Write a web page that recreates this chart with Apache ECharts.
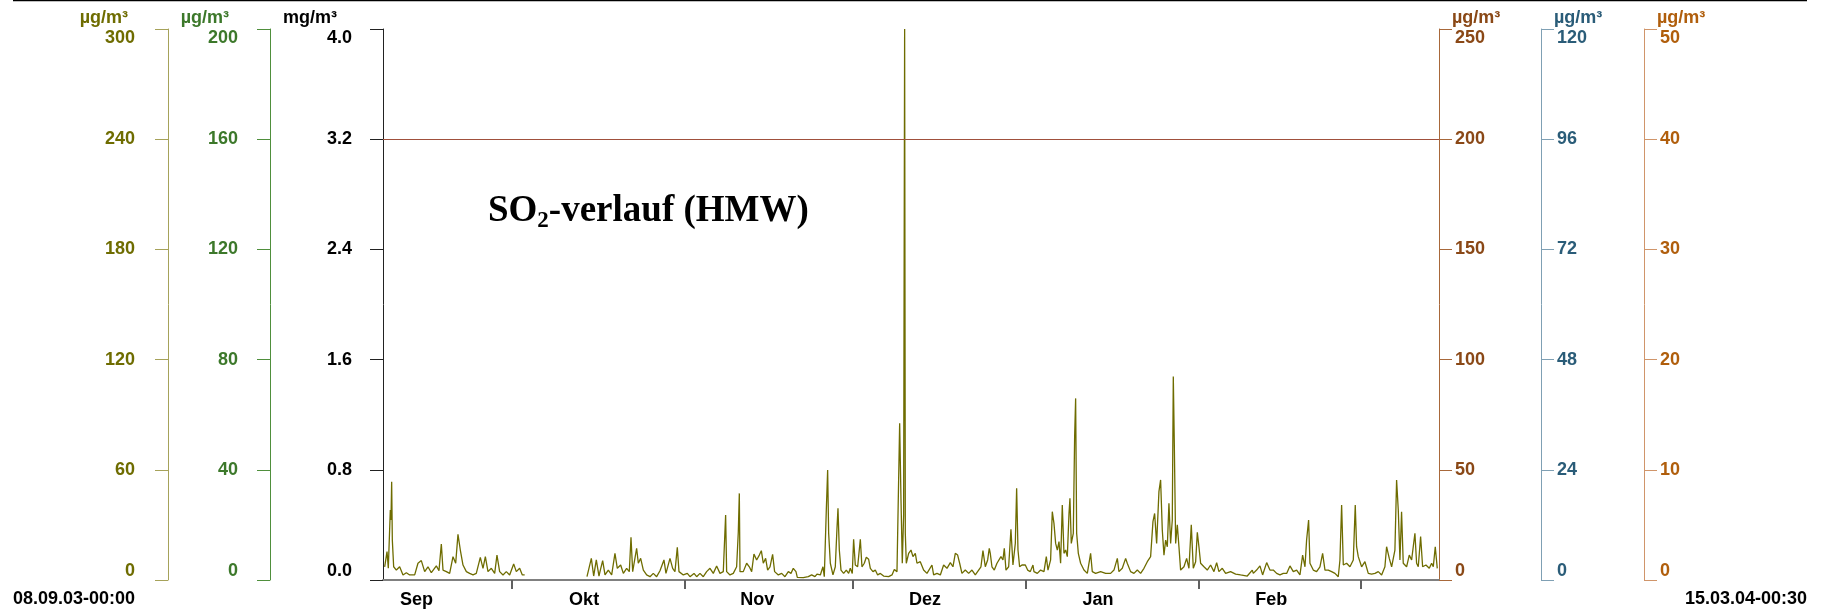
<!DOCTYPE html>
<html>
<head>
<meta charset="utf-8">
<script src="https://cdn.jsdelivr.net/npm/echarts@6/dist/echarts.min.js"></script>
<style>
  html, body { margin: 0; padding: 0; background: #fff; }
  #chart { width: 1827px; height: 610px; }
</style>
</head>
<body>
<div id="chart"></div>
<script>
// time in days since 08.09.03 00:00, SO2 half-hour values in µg/m³ (null = no data)
var days = [
  0.30, 0.72, 0.95, 1.31, 1.43, 1.55, 1.67, 1.91, 2.39, 2.98, 3.58, 4.18, 4.77, 5.67, 6.26, 6.86, 7.46, 8.05, 8.65, 9.55,
  10.02, 10.44, 10.74, 11.34, 11.93, 12.53, 13.01, 13.42, 13.84, 14.32, 14.92, 15.51, 16.11, 16.70, 17.42, 17.90, 18.32, 18.79, 19.39, 19.99,
  20.40, 20.88, 21.48, 22.07, 22.67, 23.39, 23.86, 24.46, 24.94, 25.36, 30.00,
  36.51, 37.29, 37.71, 38.18, 38.66, 38.84, 39.32, 39.74, 40.33, 40.93, 41.52, 41.94, 42.54, 43.02, 43.61, 44.09, 44.39, 44.69, 45.40,
  45.70, 46.12, 46.60, 47.19, 47.79, 48.38, 48.98, 49.58, 50.29, 50.65, 51.37, 51.85, 52.26, 52.68, 52.98, 53.76, 54.47, 54.95, 55.67, 56.14,
  56.74, 57.33, 57.93, 58.53, 59.12, 59.72, 60.32, 60.91, 61.33, 61.51, 62.11, 62.70, 63.30, 63.60, 63.78, 63.90, 64.49, 65.09, 65.57, 65.99,
  66.40, 66.88, 67.36, 67.72, 68.07, 68.49, 68.85, 69.27, 69.74, 70.10, 70.76, 71.36, 71.95, 72.55, 73.03, 73.44, 73.92, 74.16, 75.23, 76.13,
  76.73, 77.32, 77.68, 78.28, 78.75, 78.99, 79.35, 79.59, 79.77, 80.07, 80.54, 80.96, 81.26, 81.44, 81.68, 81.98, 82.45, 82.93, 83.35, 83.64,
  84.00, 84.24, 84.54, 84.96, 85.44, 85.73, 86.15, 86.51, 86.93, 87.23, 87.70, 88.12, 88.54, 89.02, 89.61, 90.51, 91.11, 91.52, 92.00, 92.30,
  92.48, 92.72, 92.95, 93.19, 93.37, 93.49, 93.67, 94.09, 94.51, 94.86, 95.28, 95.58, 96.17, 96.77, 97.37, 98.26, 98.56, 99.16, 99.76, 100.35,
  100.95, 101.55, 102.02, 102.44, 102.86, 103.22, 103.63, 104.23, 104.83, 105.42, 106.02, 106.62, 107.03, 107.39, 107.81, 108.23, 108.52, 108.70, 109.00, 109.42,
  109.90, 110.19, 110.61, 110.97, 111.21, 111.51, 111.99, 112.40, 112.76, 113.18, 113.42, 113.66, 113.95, 114.37, 114.97, 115.39, 115.86, 116.34, 116.52, 117.12,
  117.71, 118.31, 118.73, 119.03, 119.50, 119.80, 120.10, 120.40, 120.70, 121.00, 121.29, 121.59, 121.89, 122.19, 122.49, 122.79, 122.96, 123.20, 123.56, 123.80,
  123.98, 124.16, 124.46, 124.87, 125.47, 126.07, 126.66, 126.96, 127.56, 128.45, 129.35, 130.24, 130.84, 131.44, 131.73, 132.33, 132.93, 133.22, 133.82, 134.42,
  135.02, 135.61, 136.21, 136.81, 137.40, 137.82, 138.12, 138.48, 138.89, 139.19, 139.49, 139.79, 140.09, 140.39, 140.68, 140.98, 141.28, 141.46, 141.64, 141.88,
  142.18, 142.47, 142.77, 143.37, 143.85, 144.26, 144.68, 145.04, 145.46, 145.76, 146.05, 146.35, 146.95, 147.54, 148.14, 148.74, 149.22, 149.63, 150.23, 150.83,
  151.72, 152.62, 153.51, 154.70, 155.60, 155.78, 156.37, 156.97, 157.45, 158.17, 158.76, 159.36, 159.96, 160.55, 161.15, 161.75, 162.34, 162.94, 163.54, 164.13,
  164.61, 165.03, 165.32, 165.68, 165.92, 166.52, 167.11, 167.71, 168.19, 168.61, 169.20, 169.80, 170.40, 170.99, 171.29, 171.59, 171.89, 172.48, 173.08, 173.68,
  174.03, 174.27, 174.57, 175.17, 175.76, 176.36, 176.96, 177.56, 178.15, 178.75, 179.34, 179.64, 180.12, 180.54, 181.13, 181.43, 181.73, 182.03, 182.32, 182.62,
  183.22, 183.70, 184.12, 184.71, 185.01, 185.31, 185.73, 186.09, 186.68, 187.28, 187.70, 188.00, 188.35, 188.71
];
var so2 = [
  6.0, 12.9, 5.3, 31.8, 27.2, 44.6, 18.1, 6.0, 4.5, 6.0, 2.3, 3.3, 2.3, 2.3, 7.6, 8.8, 3.8, 6.0, 3.3, 6.4,
  4.2, 16.3, 4.5, 3.8, 3.0, 10.6, 7.6, 20.7, 13.6, 6.8, 3.8, 3.0, 2.3, 3.0, 10.3, 5.3, 10.6, 3.8, 5.3, 3.0,
  11.3, 3.8, 2.3, 3.8, 2.3, 7.3, 3.8, 5.3, 2.3, 2.3, null,
  1.5, 9.8, 1.8, 9.1, 1.8, 3.8, 8.8, 2.3, 4.5, 2.3, 12.1, 5.3, 6.8, 3.0, 5.3, 3.8, 19.4, 3.8, 14.4,
  7.6, 9.8, 4.5, 2.3, 1.5, 3.0, 1.5, 4.2, 9.1, 3.0, 9.8, 5.3, 3.8, 14.8, 3.8, 2.3, 3.0, 1.5, 3.0, 1.5,
  3.0, 1.5, 3.8, 5.3, 3.0, 6.4, 3.0, 3.8, 29.5, 3.8, 2.3, 3.0, 6.0, 21.9, 39.3, 3.8, 3.8, 7.6, 6.0, 3.8,
  11.8, 9.1, 11.3, 13.3, 7.6, 9.8, 4.5, 6.0, 11.6, 3.8, 2.3, 3.0, 1.5, 3.8, 3.0, 5.3, 3.8, 1.2, 1.1, 1.5,
  2.3, 1.5, 2.7, 2.3, 6.0, 1.5, 31.8, 49.9, 21.2, 7.6, 2.3, 6.0, 23.4, 32.5, 13.6, 4.5, 3.0, 4.5, 3.0, 5.3,
  3.0, 18.5, 6.8, 6.0, 18.5, 6.0, 7.6, 10.3, 9.4, 5.3, 3.8, 4.5, 2.3, 3.0, 1.8, 1.5, 2.3, 4.8, 3.8, 3.0,
  71.1, 36.3, 7.6, 29.5, 250, 21.2, 7.6, 12.1, 13.6, 10.6, 12.1, 7.6, 8.3, 4.5, 3.0, 6.8, 2.3, 3.0, 2.3, 6.8,
  5.3, 7.9, 6.0, 12.1, 11.3, 7.6, 3.0, 4.5, 3.0, 4.5, 2.3, 4.5, 6.0, 13.3, 6.0, 9.1, 14.4, 12.1, 6.0, 4.5,
  7.6, 8.3, 10.6, 9.1, 14.4, 4.5, 6.0, 23.0, 6.8, 16.6, 41.6, 13.6, 6.0, 6.8, 6.8, 4.5, 3.8, 6.8, 3.8, 3.0,
  4.5, 3.8, 10.6, 4.5, 9.1, 31.0, 25.7, 16.6, 13.6, 17.4, 7.6, 34.0, 12.1, 13.6, 10.6, 30.2, 37.1, 16.6, 21.2, 65.0,
  82.4, 21.2, 12.1, 7.6, 4.5, 3.0, 12.1, 3.8, 3.0, 3.8, 3.0, 3.0, 4.5, 9.8, 3.8, 5.3, 9.8, 7.6, 3.8, 3.0,
  4.5, 3.0, 5.3, 8.3, 10.6, 26.5, 30.2, 16.6, 40.1, 45.4, 22.7, 11.3, 18.1, 15.1, 34.8, 16.6, 27.2, 92.3, 62.0, 16.6,
  25.0, 15.1, 4.5, 6.0, 9.8, 5.3, 25.0, 5.3, 8.3, 21.6, 15.1, 7.6, 6.0, 4.5, 6.8, 3.8, 7.9, 3.8, 5.3, 3.0,
  3.8, 2.7, 2.3, 1.8, 4.5, 3.0, 4.5, 6.4, 2.3, 7.9, 4.5, 4.5, 3.0, 2.3, 3.0, 3.0, 6.4, 3.8, 4.5, 2.3,
  11.3, 6.0, 18.1, 27.2, 7.6, 4.5, 3.8, 6.0, 12.1, 4.5, 4.5, 3.8, 3.0, 1.5, 9.1, 34.0, 6.8, 7.6, 6.0, 9.1,
  34.0, 15.1, 10.6, 6.0, 8.3, 3.0, 2.7, 3.0, 3.8, 2.3, 6.0, 15.1, 9.8, 6.0, 13.6, 45.4, 31.8, 9.1, 31.0, 7.6,
  6.0, 11.3, 9.1, 21.2, 7.6, 6.0, 19.7, 6.0, 6.8, 5.3, 7.6, 6.0, 15.1, 5.3
];
var limitValue = 200;                       // µg/m³ HMW limit
var monthNames = ['Sep', 'Okt', 'Nov', 'Dez', 'Jan', 'Feb'];
var monthLabelDays = [6, 36, 67, 97, 128, 159];   // 14th of each month
var monthStartDays = [23, 54, 84, 115, 146, 175]; // 1st of Okt ... Mar
var startLabel = '08.09.03-00:00';
var endLabel = '15.03.04-00:30';

var FONT = '"Liberation Sans", Arial, sans-serif';
var FS = 18;

function yAx(o) {
  return {
    type: 'value',
    position: o.pos,
    offset: o.offset,
    min: o.min, max: o.max, interval: o.interval,
    name: o.unit,
    nameLocation: 'end',
    nameGap: 11,
    nameTextStyle: {
      color: o.text, fontFamily: FONT, fontWeight: 'bold', fontSize: FS,
      align: o.pos === 'left' ? 'right' : 'left',
      verticalAlign: 'middle',
      padding: o.pos === 'left' ? [0, o.namePad, 0, 0] : [0, 0, 0, o.namePad]
    },
    axisLine: { show: true, lineStyle: { color: o.line, width: 1 } },
    axisTick: { show: true, length: 13, lineStyle: { color: o.line, width: 1 } },
    splitLine: { show: false },
    axisLabel: {
      color: o.text, fontFamily: FONT, fontWeight: 'bold', fontSize: FS,
      margin: o.margin,
      verticalAlignMinLabel: 'bottom',
      verticalAlignMaxLabel: 'top',
      formatter: o.fmt
    }
  };
}

var seriesData = days.map(function (d, i) {
  return [d, so2[i] === null ? '-' : so2[i]];
});

var myChart = echarts.init(document.getElementById('chart'), null, { renderer: 'canvas' });

var option = {
  animation: false,
  backgroundColor: '#fff',
  grid: { left: 383, right: 388, top: 29, bottom: 30, outerBoundsMode: 'none', containLabel: false },
  title: {
    text: '{a|SO}{s|2}{a|-verlauf (HMW)}',
    left: 483,
    top: 184,
    textStyle: {
      rich: {
        a: { fontFamily: '"Liberation Serif", "Times New Roman", serif', fontWeight: 'bold', fontSize: 37, color: '#000', lineHeight: 44, verticalAlign: 'middle' },
        s: { fontFamily: '"Liberation Serif", "Times New Roman", serif', fontWeight: 'bold', fontSize: 23, color: '#000', lineHeight: 26, verticalAlign: 'bottom' }
      }
    }
  },
  xAxis: {
    type: 'value',
    min: 0,
    max: 189.02,
    splitLine: { show: false },
    axisLine: { show: true, onZero: false, lineStyle: { color: '#808080', width: 2 } },
    axisTick: { show: true, length: 9, customValues: monthStartDays, lineStyle: { color: '#606060', width: 2 } },
    axisLabel: {
      customValues: monthLabelDays,
      margin: 11,
      color: '#000', fontFamily: FONT, fontWeight: 'bold', fontSize: FS,
      formatter: function (v) { return monthNames[monthLabelDays.indexOf(v)]; }
    }
  },
  yAxis: [
    yAx({ pos: 'left', offset: 0, min: 0, max: 4, interval: 0.8, unit: 'mg/m³', namePad: 46, margin: 31,
          line: '#222', text: '#000', fmt: function (v) { return v.toFixed(1); } }),
    yAx({ pos: 'left', offset: 113, min: 0, max: 200, interval: 40, unit: 'µg/m³', namePad: 41, margin: 32,
          line: '#4f8f3c', text: '#3c782a' }),
    yAx({ pos: 'left', offset: 215, min: 0, max: 300, interval: 60, unit: 'µg/m³', namePad: 40, margin: 33,
          line: '#a6a25a', text: '#6e6c00' }),
    yAx({ pos: 'right', offset: 0, min: 0, max: 250, interval: 50, unit: 'µg/m³', namePad: 13, margin: 16,
          line: '#a8683a', text: '#8a4816' }),
    yAx({ pos: 'right', offset: 102, min: 0, max: 120, interval: 24, unit: 'µg/m³', namePad: 13, margin: 16,
          line: '#7fa0b4', text: '#2a5c78' }),
    yAx({ pos: 'right', offset: 205, min: 0, max: 50, interval: 10, unit: 'µg/m³', namePad: 13, margin: 16,
          line: '#d0956a', text: '#b05e0c' })
  ],
  series: [
    {
      name: 'SO2',
      type: 'line',
      yAxisIndex: 3,
      data: seriesData,
      showSymbol: false,
      symbol: 'none',
      clip: true,
      connectNulls: false,
      lineStyle: { color: '#6e6c00', width: 1.3 },
      markLine: {
        silent: true,
        symbol: ['none', 'none'],
        label: { show: false },
        lineStyle: { color: '#a0503c', width: 1, type: 'solid' },
        data: [{ yAxis: limitValue }]
      }
    }
  ],
  graphic: [
    { type: 'line', shape: { x1: 13, y1: 0.5, x2: 1807, y2: 0.5 }, style: { stroke: '#000', lineWidth: 1.5 } },
    { type: 'text', left: 13, top: 590, style: { text: startLabel, fill: '#000', font: 'bold 18px ' + FONT } },
    { type: 'text', right: 20, top: 590, style: { text: endLabel, fill: '#000', font: 'bold 18px ' + FONT } }
  ]
};

myChart.setOption(option);
window.onresize = function () {
  myChart.resize();
};
</script>
</body>
</html>
